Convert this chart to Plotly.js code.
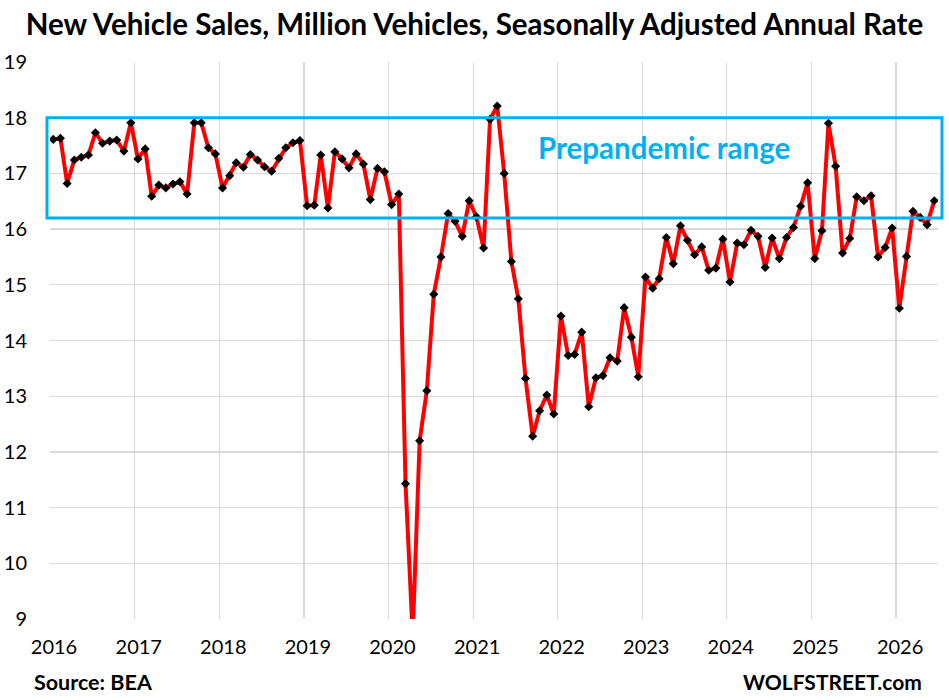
<!DOCTYPE html>
<html>
<head>
<meta charset="utf-8">
<script src="https://cdn.plot.ly/plotly-3.0.1.min.js"></script>
<style>
  html, body { margin: 0; padding: 0; background: #fff; }
  #chart { width: 949px; height: 700px; }
</style>
</head>
<body>
<div id="chart"></div>
<script>
// Monthly new vehicle sales, million vehicles, SAAR
const startYear = 2016;
const s2016 = [17.61, 17.63, 16.82, 17.24, 17.29, 17.33, 17.73, 17.54, 17.58, 17.60, 17.40, 17.91];
const s2017 = [17.26, 17.44, 16.59, 16.79, 16.74, 16.81, 16.85, 16.63, 17.91, 17.91, 17.46, 17.35];
const s2018 = [16.74, 16.96, 17.19, 17.11, 17.34, 17.24, 17.12, 17.04, 17.27, 17.46, 17.55, 17.59];
const s2019 = [16.42, 16.43, 17.33, 16.38, 17.39, 17.26, 17.10, 17.35, 17.17, 16.53, 17.09, 17.03];
const s2020 = [16.44, 16.63, 11.43, 8.70, 12.20, 13.10, 14.83, 15.50, 16.28, 16.14, 15.87, 16.51];
const s2021 = [16.22, 15.66, 17.97, 18.21, 17.00, 15.42, 14.75, 13.32, 12.28, 12.74, 13.02, 12.68];
const s2022 = [14.44, 13.73, 13.75, 14.15, 12.81, 13.33, 13.37, 13.69, 13.63, 14.59, 14.06, 13.35];
const s2023 = [15.14, 14.94, 15.11, 15.85, 15.38, 16.06, 15.80, 15.54, 15.68, 15.26, 15.30, 15.82];
const s2024 = [15.05, 15.75, 15.72, 15.98, 15.87, 15.31, 15.84, 15.47, 15.85, 16.03, 16.41, 16.83];
const s2025 = [15.47, 15.97, 17.90, 17.13, 15.57, 15.83, 16.58, 16.51, 16.60, 15.50, 15.67, 16.02];
const s2026 = [14.58, 15.51, 16.32, 16.21, 16.08, 16.51];

// Prepandemic range band
const prepandemicLow = 16.2;
const prepandemicHigh = 18.0;

const titleText = "New Vehicle Sales, Million Vehicles, Seasonally Adjusted Annual Rate";
const bandLabel = "Prepandemic range";
const sourceText = "Source: BEA";
const creditText = "WOLFSTREET.com";

const years = [s2016, s2017, s2018, s2019, s2020, s2021, s2022, s2023, s2024, s2025, s2026];
const xDates = [];
const yVals = [];
years.forEach(function (arr, i) {
  arr.forEach(function (v, m) {
    const mm = String(m + 1).padStart(2, "0");
    xDates.push((startYear + i) + "-" + mm + "-15");
    yVals.push(v);
  });
});

const FONT = "Lato, 'Open Sans', sans-serif";
const BLUE = "#00B0F0";

const trace = {
  type: "scatter",
  mode: "lines+markers",
  x: xDates,
  y: yVals,
  line: { color: "#FF0000", width: 4 },
  marker: { symbol: "diamond", color: "#000000", size: 7 },
  hoverinfo: "x+y"
};

const layout = {
  width: 949,
  height: 700,
  margin: { l: 50, r: 11, t: 62, b: 81 },
  paper_bgcolor: "#ffffff",
  plot_bgcolor: "#ffffff",
  showlegend: false,
  font: { family: FONT, color: "#000000", size: 20 },
  title: {
    text: "<b>" + titleText + "</b>",
    font: { family: FONT, size: 29.5, color: "#000000" },
    xref: "container", x: 0.5, xanchor: "center",
    yref: "container", y: 1 - 25 / 700, yanchor: "middle"
  },
  xaxis: {
    type: "date",
    range: ["2016-01-01", "2026-07-01"],
    tick0: "2016-01-01",
    dtick: "M12",
    tickformat: "%Y",
    showgrid: true,
    gridcolor: "#D9D9D9",
    gridwidth: 1.3,
    zeroline: false,
    showline: false,
    ticks: "outside",
    ticklen: 10,
    tickcolor: "rgba(0,0,0,0)",
    ticklabelshift: 4,
    tickfont: { family: FONT, size: 20, color: "#000000" },
    fixedrange: true
  },
  yaxis: {
    range: [9, 19],
    dtick: 1,
    tick0: 9,
    showgrid: true,
    gridcolor: "#D9D9D9",
    gridwidth: 1.3,
    zeroline: false,
    showline: false,
    ticks: "outside",
    ticklen: 18,
    tickcolor: "rgba(0,0,0,0)",
    tickfont: { family: FONT, size: 20, color: "#000000" },
    fixedrange: true
  },
  shapes: [{
    type: "rect",
    xref: "paper", x0: -0.0034, x1: 1.0045,
    yref: "y", y0: prepandemicLow, y1: prepandemicHigh,
    line: { color: BLUE, width: 3 },
    fillcolor: "rgba(0,0,0,0)",
    layer: "above"
  }],
  annotations: [
    {
      text: "<b>" + bandLabel + "</b>",
      xref: "x", yref: "y",
      x: "2023-04-05", y: 17.47,
      xanchor: "center", yanchor: "middle",
      showarrow: false,
      font: { family: FONT, size: 29.5, color: BLUE }
    },
    {
      text: "<b>" + sourceText + "</b>",
      xref: "paper", yref: "paper",
      x: -0.0205, y: -0.113,
      xanchor: "left", yanchor: "middle",
      showarrow: false,
      font: { family: FONT, size: 21.5, color: "#000000" }
    },
    {
      text: "<b>" + creditText + "</b>",
      xref: "paper", yref: "paper",
      x: 0.9845, y: -0.113,
      xanchor: "right", yanchor: "middle",
      showarrow: false,
      font: { family: FONT, size: 21, color: "#000000" }
    }
  ]
};

Plotly.newPlot("chart", [trace], layout, { displayModeBar: false, staticPlot: true });
</script>
</body>
</html>
